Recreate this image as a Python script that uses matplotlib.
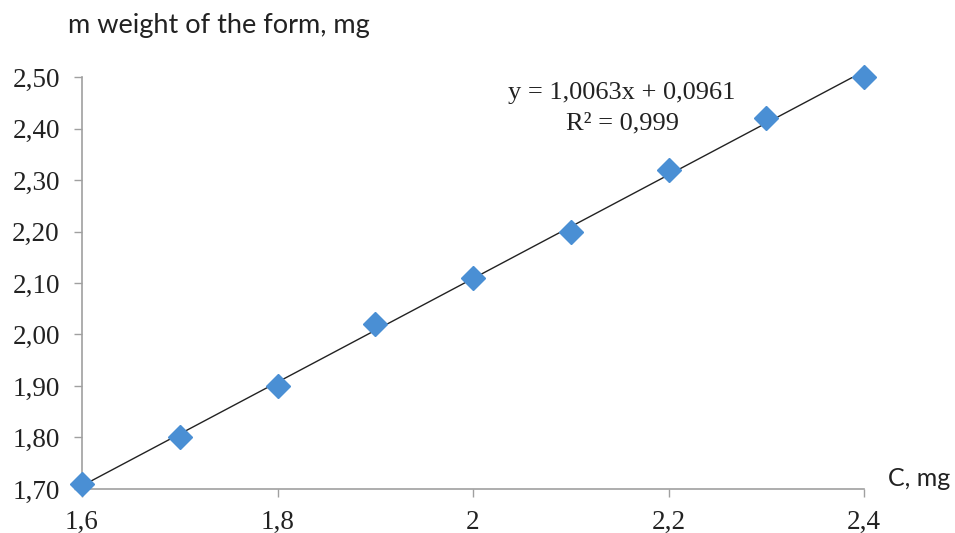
import numpy as np
import matplotlib.pyplot as plt

# measured points
c_mg = [1.6, 1.7, 1.8, 1.9, 2.0, 2.1, 2.2, 2.3, 2.4]
m_mg = [1.71, 1.80, 1.90, 2.02, 2.11, 2.20, 2.32, 2.42, 2.50]

# trend line from the chart
slope = 1.0063
intercept = 0.0961
r2 = 0.999

x_ticks = [1.6, 1.8, 2.0, 2.2, 2.4]
x_labels = ["1,6", "1,8", "2", "2,2", "2,4"]
y_ticks = [1.7, 1.8, 1.9, 2.0, 2.1, 2.2, 2.3, 2.4, 2.5]
y_labels = ["1,70", "1,80", "1,90", "2,00", "2,10", "2,20", "2,30", "2,40", "2,50"]

serif = "Liberation Serif"
sans = "Lato"

fig = plt.figure(figsize=(9.55, 5.33), dpi=100)
ax = fig.add_axes([0.0859, 0.0826, 0.8188, 0.7729])

xs = np.array([c_mg[0], c_mg[-1]])
ax.plot(xs, slope * xs + intercept, color="#222222", lw=1.0, zorder=2)
ax.plot(c_mg, m_mg, "D", color="#4a8fd4", markersize=12, mec="#4a8fd4",
        clip_on=False, zorder=3)

ax.set_xlim(1.6, 2.4)
ax.set_ylim(1.7, 2.5)
ax.set_xticks(x_ticks)
ax.set_xticklabels(x_labels, family=serif, fontsize=19.5)
ax.set_yticks(y_ticks)
ax.set_yticklabels(y_labels, family=serif, fontsize=19.5)
ax.tick_params(colors="#a0a0a0", length=6, width=1, labelcolor="#222222")
ax.tick_params(axis="y", pad=10)
ax.tick_params(axis="x", pad=9)

for s in ["top", "right"]:
    ax.spines[s].set_visible(False)
for s in ["left", "bottom"]:
    ax.spines[s].set_color("#a0a0a0")
    ax.spines[s].set_linewidth(1.2)

fig.text(68 / 955, 1 - 25 / 533, "m weight of the form, mg", family=sans,
         fontsize=19.5, va="center", ha="left", color="#222222")
fig.text(888 / 955, 1 - 478 / 533, "C, mg", family=sans,
         fontsize=18, va="center", ha="left", color="#222222")

eq1 = "y = 1,0063x + 0,0961"
eq2 = "R\u00b2 = {:.3f}".format(r2).replace(".", ",")
fig.text(622 / 955, 1 - 93 / 533, eq1, family=serif, fontsize=19,
         ha="center", va="center", color="#222222")
fig.text(622 / 955, 1 - 123 / 533, eq2, family=serif, fontsize=19,
         ha="center", va="center", color="#222222")

fig.savefig("out.png", dpi=100)
